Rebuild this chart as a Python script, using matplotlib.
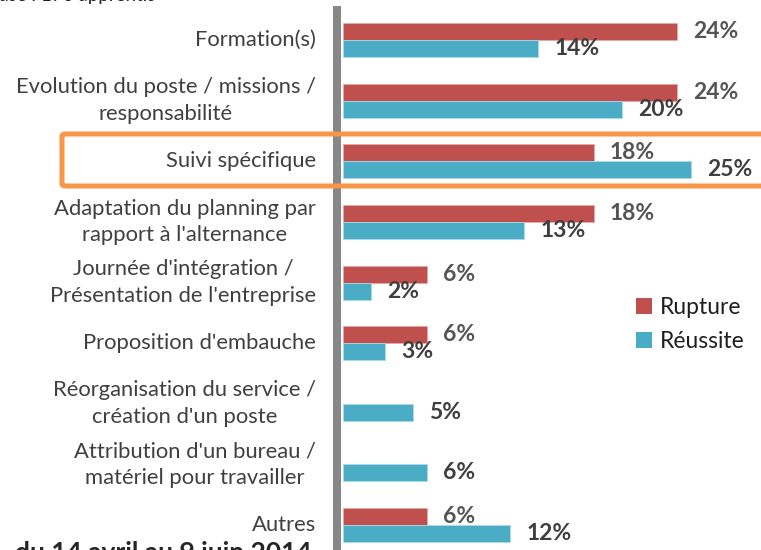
import numpy as np
import matplotlib
matplotlib.use("Agg")
import matplotlib.pyplot as plt
from matplotlib.patches import FancyBboxPatch, Patch

# Leviers cités par les apprentis, en % selon l'issue du contrat
categories = [
    "Formation(s)",
    "Evolution du poste / missions /\nresponsabilité",
    "Suivi spécifique",
    "Adaptation du planning par\nrapport à l'alternance",
    "Journée d'intégration /\nPrésentation de l'entreprise",
    "Proposition d'embauche",
    "Réorganisation du service /\ncréation d'un poste",
    "Attribution d'un bureau /\nmatériel pour travailler",
    "Autres",
]
rupture = [24, 24, 18, 18, 6, 6, 0, 0, 6]
reussite = [14, 20, 25, 13, 2, 3, 5, 6, 12]

RED = "#C0504D"
TEAL = "#4BACC6"
ORANGE = "#F79646"

plt.rcParams["font.family"] = ["Lato", "DejaVu Sans"]

W, H = 761, 550
fig = plt.figure(figsize=(W / 100, H / 100), dpi=100)
ax = fig.add_axes([343 / W, 0, (W - 343) / W, 540 / H])

y = np.arange(len(categories))
bh = 0.28
ax.barh(y - bh / 2, rupture, height=bh, color=RED, edgecolor="#E8A9A7",
        linewidth=[0.6 if v else 0 for v in rupture])
ax.barh(y + bh / 2, reussite, height=bh, color=TEAL, edgecolor="#A9DAE8",
        linewidth=[0.6 if v else 0 for v in reussite])

ax.set_xlim(0, 30)
ax.set_ylim(8.41, -0.495)

# valeurs en bout de barre
for i in range(len(categories)):
    if rupture[i] > 0:
        ax.annotate(f"{rupture[i]}%", (rupture[i], i - bh / 2), xytext=(16, 0),
                    textcoords="offset pixels", va="center", ha="left",
                    fontsize=16.5, fontweight="bold", color="#555555")
    if reussite[i] > 0:
        ax.annotate(f"{reussite[i]}%", (reussite[i], i + bh / 2), xytext=(16, 0),
                    textcoords="offset pixels", va="center", ha="left",
                    fontsize=16.5, fontweight="bold", color="#3F3F3F")

# libellés des catégories, centrés ligne à ligne
lab_x = (316 - 343) / (W - 343)
for i, lab in enumerate(categories):
    ax.text(lab_x, i, lab, transform=ax.get_yaxis_transform(), ha="right",
            va="center", multialignment="center", fontsize=15.8, color="#404040",
            linespacing=1.42)

ax.set_yticks([])
ax.set_xticks([])

for s in ["top", "right", "bottom"]:
    ax.spines[s].set_visible(False)
ax.spines["left"].set_color("#878787")
ax.spines["left"].set_linewidth(5.8)
ax.spines["left"].set_position(("outward", 4))

handles = [Patch(facecolor=RED, label="Rupture"), Patch(facecolor=TEAL, label="Réussite")]
leg = fig.legend(handles=handles, loc="upper left", bbox_to_anchor=(636 / W, 1 - 297 / H),
                 frameon=False, fontsize=16.5, handlelength=0.7, handleheight=0.7,
                 handletextpad=0.35, labelspacing=0.58, borderpad=0, borderaxespad=0)
for t in leg.get_texts():
    t.set_color("#1F1F1F")

# encadré sur le suivi spécifique
box = FancyBboxPatch((62 / W, 1 - 186 / H), (800 - 62) / W, 52 / H,
                     boxstyle="round,pad=0,rounding_size=0.004",
                     transform=fig.transFigure, fill=False,
                     edgecolor=ORANGE, linewidth=3.6, zorder=10, clip_on=False)
fig.add_artist(box)

fig.text(155 / W, 1 - 1.5 / H, "Base : 176 apprentis", ha="right", va="baseline",
         fontsize=13.5, color="#1F1F1F")
fig.text(312 / W, 1 - 541 / H, "du 14 avril au 9 juin 2014",
         ha="right", va="top", fontsize=19, fontweight="bold", color="#262626")

fig.savefig("out.png", dpi=100)
